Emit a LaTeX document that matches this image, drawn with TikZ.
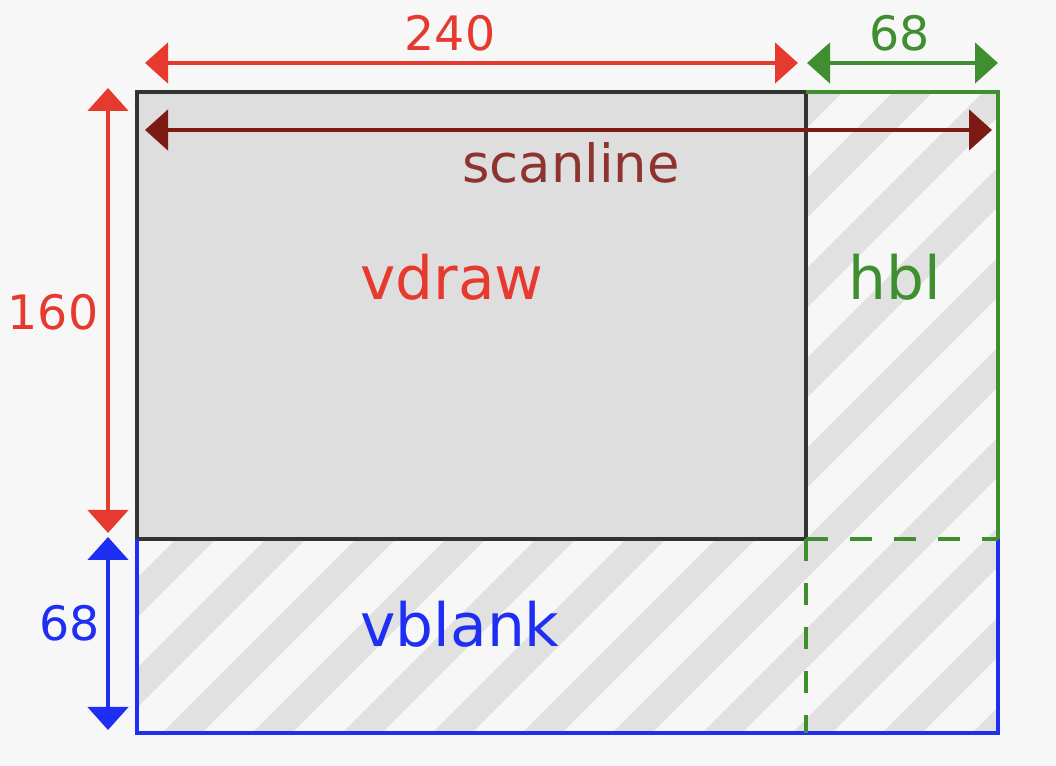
\documentclass[tikz,border=0pt]{standalone}
\usepackage{fontspec}
\setmainfont{DejaVu Sans}
\usetikzlibrary{arrows.meta}
\definecolor{Paper}{HTML}{F7F7F7}
\definecolor{Shade}{HTML}{DEDEDE}
\definecolor{Stripe}{HTML}{E1E1E1}
\definecolor{DrawRed}{HTML}{E63A2E}
\definecolor{HblGreen}{HTML}{3F8F30}
\definecolor{BlankBlue}{HTML}{1E2EF2}
\definecolor{ScanRed}{HTML}{7E1A14}
\definecolor{ScanText}{HTML}{8E3430}

\begin{document}
\begin{tikzpicture}[
  dim/.style={{Triangle[length=0.23cm, width=0.4cm]}-{Triangle[length=0.23cm, width=0.4cm]}, line width=1.4pt},
  area/.style={font=\fontsize{17}{20}\selectfont, anchor=base, inner sep=0pt},
  num/.style={font=\fontsize{13.5}{16}\selectfont, inner sep=0pt},
  stripe/.style={line width=0.28cm, color=Stripe},
  edge/.style={line width=1.1pt}
]
\fill[Paper] (0,0) rectangle (10.56,7.66);
\useasboundingbox (0,0) rectangle (10.56,7.66);

% frame corners
\coordinate (tl) at (1.37,6.74);
\coordinate (tm) at (8.06,6.74);
\coordinate (tr) at (9.98,6.74);
\coordinate (ml) at (1.37,2.27);
\coordinate (mm) at (8.06,2.27);
\coordinate (mr) at (9.98,2.27);
\coordinate (bl) at (1.37,0.33);
\coordinate (bm) at (8.06,0.33);
\coordinate (br) at (9.98,0.33);

% visible area
\fill[Shade] (ml) rectangle (tm);

% blanking areas, hatched
\begin{scope}
  \clip (bl) rectangle (mr) (mm) rectangle (tr);
  \foreach \k in {-6,...,11}
    \draw[stripe] ({-0.31+0.9*\k},0) -- ({6.69+0.9*\k},7);
\end{scope}

% borders
\draw[edge, black!80] (ml) rectangle (tm);
\draw[edge, HblGreen] (tm) -- (tr) -- (mr);
\draw[edge, BlankBlue] (ml) -- (bl) -- (br) -- (mr);
\draw[edge, HblGreen, dash pattern=on 0.22cm off 0.22cm] (mm) -- (mr);
\draw[edge, HblGreen, dash pattern=on 0.22cm off 0.22cm] (mm) -- (bm);

% dimension ends
\coordinate (w1) at (1.45,7.03);
\coordinate (w2) at (7.98,7.03);
\coordinate (h1) at (8.07,7.03);
\coordinate (h2) at (9.98,7.03);
\coordinate (s1) at (1.45,6.36);
\coordinate (s2) at (9.92,6.36);
\coordinate (v1) at (1.08,6.78);
\coordinate (v2) at (1.08,2.33);
\coordinate (b1) at (1.08,2.29);
\coordinate (b2) at (1.08,0.36);

\draw[dim, DrawRed] (w1) -- (w2);
\draw[dim, HblGreen] (h1) -- (h2);
\draw[dim, ScanRed] (s1) -- (s2);
\draw[dim, DrawRed] (v1) -- (v2);
\draw[dim, BlankBlue] (b1) -- (b2);

% labels
\node[num, DrawRed] (wlab) at (4.50,7.33) {240};
\node[num, HblGreen] (hlab) at (9.00,7.33) {68};
\node[num, DrawRed] (vlab) at (0.53,4.54) {160};
\node[num, BlankBlue] (blab) at (0.70,1.43) {68};
\node[area, ScanText, font=\fontsize{15}{18}\selectfont] (scan) at (5.71,5.83) {scanline};
\node[area, DrawRed] (vdraw) at (4.52,4.66) {vdraw};
\node[area, HblGreen] (hbl) at (8.95,4.66) {hbl};
\node[area, BlankBlue] (vblank) at (4.60,1.19) {vblank};
\end{tikzpicture}
\end{document}
